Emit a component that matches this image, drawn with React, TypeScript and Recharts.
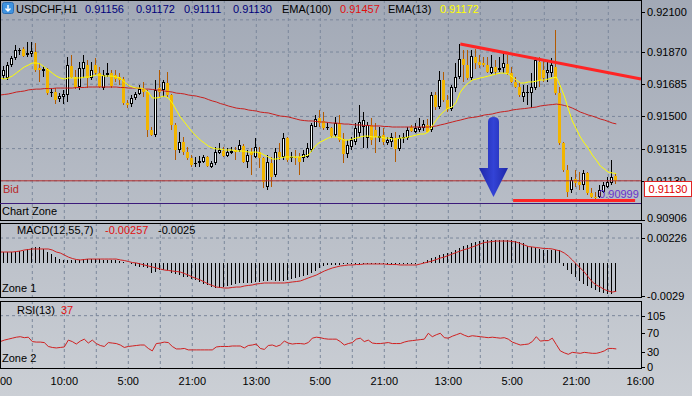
import React from "react";
import { ComposedChart, Bar, Line, XAxis, YAxis, CartesianGrid, ReferenceLine, ReferenceDot } from "recharts";

const FONT = '"Liberation Sans", Arial, sans-serif';

// ---- candles (USDCHF, H1) ----
const openP = [
  0.91721,0.91732,0.91721,0.91795,0.91836,0.91876,0.91887,0.91853,0.91859,0.91870,
  0.91778,0.91761,0.91772,0.91634,0.91640,0.91600,0.91611,0.91623,0.91790,0.91726,
  0.91669,0.91772,0.91795,0.91721,0.91795,0.91749,0.91663,0.91738,0.91749,0.91738,
  0.91726,0.91715,0.91577,0.91571,0.91606,0.91629,0.91657,0.91640,0.91422,0.91393,
  0.91663,0.91652,0.91692,0.91623,0.91451,0.91307,0.91353,0.91295,0.91261,0.91226,
  0.91232,0.91238,0.91267,0.91209,0.91232,0.91290,0.91301,0.91272,0.91290,0.91307,
  0.91307,0.91330,0.91238,0.91295,0.91267,0.91295,0.91261,0.91094,0.91232,0.91163,
  0.91295,0.91267,0.91376,0.91261,0.91267,0.91267,0.91261,0.91267,0.91307,0.91439,
  0.91491,0.91474,0.91433,0.91433,0.91393,0.91462,0.91370,0.91284,0.91324,0.91353,
  0.91405,0.91439,0.91376,0.91451,0.91422,0.91376,0.91393,0.91347,0.91353,0.91376,
  0.91313,0.91376,0.91376,0.91439,0.91410,0.91422,0.91433,0.91451,0.91422,0.91623,
  0.91554,0.91709,0.91594,0.91543,0.91663,0.91726,0.91830,0.91795,0.91721,0.91841,
  0.91813,0.91807,0.91795,0.91749,0.91784,0.91767,0.91778,0.91801,0.91749,0.91698,
  0.91669,0.91611,0.91634,0.91634,0.91663,0.91813,0.91767,0.91749,0.91749,0.91784,
  0.91634,0.91347,0.91192,0.91077,0.91140,0.91123,0.91106,0.91175,0.91060,0.91037,
  0.91037,0.91066,0.91094,0.91117,0.91156
];
const highP = [
  0.91801,0.91790,0.91813,0.91847,0.91910,0.91893,0.91899,0.91928,0.91928,0.91922,
  0.91807,0.91790,0.91778,0.91663,0.91663,0.91634,0.91652,0.91841,0.91853,0.91767,
  0.91813,0.91853,0.91824,0.91813,0.91836,0.91784,0.91767,0.91807,0.91767,0.91767,
  0.91749,0.91726,0.91594,0.91623,0.91640,0.91680,0.91698,0.91652,0.91439,0.91709,
  0.91767,0.91709,0.91755,0.91629,0.91462,0.91410,0.91382,0.91324,0.91278,0.91267,
  0.91272,0.91278,0.91272,0.91244,0.91324,0.91347,0.91324,0.91318,0.91324,0.91324,
  0.91364,0.91341,0.91307,0.91318,0.91376,0.91324,0.91267,0.91278,0.91267,0.91318,
  0.91347,0.91405,0.91382,0.91295,0.91307,0.91290,0.91307,0.91347,0.91462,0.91508,
  0.91537,0.91525,0.91462,0.91439,0.91497,0.91508,0.91405,0.91364,0.91382,0.91462,
  0.91566,0.91525,0.91468,0.91491,0.91462,0.91439,0.91433,0.91382,0.91405,0.91410,
  0.91393,0.91405,0.91439,0.91451,0.91462,0.91491,0.91479,0.91485,0.91640,0.91640,
  0.91761,0.91755,0.91623,0.91680,0.91807,0.91916,0.91882,0.91882,0.91882,0.91887,
  0.91853,0.91841,0.91841,0.91853,0.91824,0.91841,0.91864,0.91853,0.91784,0.91726,
  0.91698,0.91680,0.91680,0.91749,0.91841,0.91841,0.91824,0.91813,0.91836,0.91997,
  0.91669,0.91353,0.91221,0.91152,0.91192,0.91180,0.91192,0.91180,0.91089,0.91066,
  0.91106,0.91123,0.91152,0.91249,0.91172
];
const lowP = [
  0.91709,0.91715,0.91709,0.91784,0.91824,0.91853,0.91841,0.91841,0.91841,0.91755,
  0.91698,0.91726,0.91623,0.91611,0.91571,0.91583,0.91571,0.91583,0.91721,0.91657,
  0.91652,0.91721,0.91663,0.91709,0.91738,0.91663,0.91652,0.91726,0.91663,0.91698,
  0.91680,0.91566,0.91548,0.91554,0.91594,0.91623,0.91611,0.91382,0.91387,0.91382,
  0.91611,0.91611,0.91611,0.91422,0.91249,0.91290,0.91278,0.91249,0.91209,0.91209,
  0.91209,0.91232,0.91209,0.91203,0.91221,0.91284,0.91267,0.91267,0.91284,0.91249,
  0.91295,0.91232,0.91203,0.91163,0.91261,0.91203,0.91089,0.91077,0.91094,0.91152,
  0.91249,0.91249,0.91238,0.91238,0.91221,0.91163,0.91238,0.91261,0.91295,0.91439,
  0.91439,0.91422,0.91422,0.91376,0.91382,0.91353,0.91232,0.91261,0.91307,0.91336,
  0.91382,0.91318,0.91318,0.91336,0.91290,0.91353,0.91336,0.91336,0.91324,0.91238,
  0.91301,0.91347,0.91364,0.91410,0.91405,0.91410,0.91416,0.91405,0.91410,0.91537,
  0.91543,0.91583,0.91525,0.91531,0.91640,0.91715,0.91698,0.91709,0.91709,0.91772,
  0.91778,0.91784,0.91749,0.91744,0.91738,0.91755,0.91749,0.91738,0.91692,0.91663,
  0.91611,0.91583,0.91566,0.91548,0.91652,0.91669,0.91698,0.91698,0.91726,0.91623,
  0.91336,0.91180,0.91037,0.91060,0.91094,0.91077,0.91077,0.91048,0.91031,0.91008,
  0.91031,0.91060,0.91089,0.91106,0.91111
];
const closeP = [
  0.91778,0.91767,0.91795,0.91836,0.91882,0.91882,0.91847,0.91864,0.91876,0.91767,
  0.91767,0.91772,0.91634,0.91640,0.91594,0.91617,0.91629,0.91795,0.91726,0.91669,
  0.91778,0.91813,0.91721,0.91767,0.91749,0.91669,0.91738,0.91749,0.91675,0.91715,
  0.91709,0.91577,0.91568,0.91606,0.91629,0.91657,0.91640,0.91422,0.91393,0.91652,
  0.91640,0.91698,0.91623,0.91451,0.91307,0.91353,0.91295,0.91261,0.91221,0.91232,
  0.91244,0.91267,0.91215,0.91232,0.91295,0.91307,0.91272,0.91295,0.91301,0.91295,
  0.91336,0.91238,0.91278,0.91278,0.91324,0.91261,0.91123,0.91238,0.91152,0.91295,
  0.91267,0.91376,0.91249,0.91267,0.91261,0.91238,0.91284,0.91318,0.91451,0.91485,
  0.91462,0.91433,0.91439,0.91387,0.91462,0.91364,0.91284,0.91336,0.91364,0.91433,
  0.91468,0.91479,0.91451,0.91364,0.91382,0.91387,0.91353,0.91364,0.91382,0.91313,
  0.91376,0.91382,0.91422,0.91416,0.91433,0.91439,0.91456,0.91410,0.91623,0.91554,
  0.91709,0.91594,0.91543,0.91669,0.91726,0.91830,0.91795,0.91721,0.91847,0.91807,
  0.91795,0.91795,0.91755,0.91784,0.91755,0.91778,0.91807,0.91749,0.91698,0.91669,
  0.91623,0.91640,0.91640,0.91669,0.91824,0.91709,0.91721,0.91767,0.91795,0.91634,
  0.91347,0.91192,0.91066,0.91134,0.91117,0.91106,0.91175,0.91060,0.91037,0.91031,
  0.91077,0.91106,0.91123,0.91152,0.91130
];

// ---- moving averages ----
const ema100 = [
  0.91623,0.91626,0.91629,0.91634,0.91640,0.91643,0.91646,0.91652,0.91655,0.91657,
  0.91657,0.91660,0.91660,0.91660,0.91663,0.91663,0.91663,0.91663,0.91663,0.91666,
  0.91666,0.91666,0.91669,0.91669,0.91669,0.91669,0.91669,0.91669,0.91669,0.91669,
  0.91666,0.91666,0.91663,0.91663,0.91663,0.91660,0.91657,0.91657,0.91655,0.91652,
  0.91652,0.91646,0.91643,0.91640,0.91634,0.91632,0.91629,0.91623,0.91620,0.91617,
  0.91611,0.91606,0.91597,0.91589,0.91583,0.91574,0.91568,0.91560,0.91554,0.91548,
  0.91545,0.91543,0.91537,0.91534,0.91531,0.91525,0.91522,0.91520,0.91514,0.91508,
  0.91502,0.91500,0.91497,0.91491,0.91485,0.91479,0.91476,0.91474,0.91474,0.91471,
  0.91468,0.91468,0.91465,0.91462,0.91462,0.91459,0.91456,0.91456,0.91453,0.91451,
  0.91451,0.91448,0.91448,0.91445,0.91445,0.91445,0.91442,0.91442,0.91439,0.91439,
  0.91439,0.91439,0.91439,0.91439,0.91439,0.91439,0.91439,0.91439,0.91442,0.91445,
  0.91451,0.91456,0.91462,0.91468,0.91474,0.91479,0.91485,0.91491,0.91494,0.91497,
  0.91502,0.91508,0.91511,0.91514,0.91520,0.91525,0.91528,0.91531,0.91537,0.91540,
  0.91543,0.91545,0.91548,0.91551,0.91554,0.91560,0.91563,0.91566,0.91568,0.91571,
  0.91568,0.91563,0.91557,0.91548,0.91537,0.91525,0.91517,0.91508,0.91502,0.91494,
  0.91485,0.91479,0.91471,0.91462,0.91457
];
const ema13 = [
  0.91721,0.91715,0.91721,0.91732,0.91749,0.91767,0.91784,0.91795,0.91807,0.91807,
  0.91801,0.91784,0.91767,0.91749,0.91732,0.91721,0.91715,0.91721,0.91721,0.91721,
  0.91721,0.91726,0.91726,0.91732,0.91738,0.91738,0.91732,0.91732,0.91732,0.91726,
  0.91721,0.91698,0.91680,0.91669,0.91663,0.91663,0.91657,0.91640,0.91606,0.91606,
  0.91611,0.91617,0.91606,0.91577,0.91537,0.91497,0.91468,0.91439,0.91410,0.91387,
  0.91364,0.91347,0.91330,0.91318,0.91313,0.91313,0.91307,0.91307,0.91307,0.91301,
  0.91301,0.91301,0.91295,0.91295,0.91295,0.91290,0.91278,0.91267,0.91255,0.91255,
  0.91261,0.91267,0.91267,0.91267,0.91267,0.91267,0.91272,0.91278,0.91307,0.91336,
  0.91353,0.91364,0.91376,0.91382,0.91382,0.91376,0.91364,0.91364,0.91370,0.91376,
  0.91382,0.91387,0.91387,0.91382,0.91382,0.91382,0.91376,0.91376,0.91370,0.91370,
  0.91376,0.91376,0.91382,0.91387,0.91393,0.91399,0.91399,0.91410,0.91445,0.91479,
  0.91508,0.91531,0.91548,0.91554,0.91583,0.91640,0.91669,0.91692,0.91709,0.91715,
  0.91721,0.91726,0.91732,0.91738,0.91744,0.91749,0.91749,0.91744,0.91726,0.91709,
  0.91692,0.91692,0.91698,0.91698,0.91703,0.91709,0.91709,0.91715,0.91721,0.91726,
  0.91675,0.91617,0.91543,0.91474,0.91428,0.91382,0.91347,0.91318,0.91278,0.91249,
  0.91215,0.91198,0.91180,0.91175,0.91172
];

// ---- MACD(12,55,7) ----
const macdHist = [
  0.00101,0.00101,0.00101,0.00101,0.00105,0.00110,0.00110,0.00128,0.00137,0.00146,
  0.00146,0.00128,0.00101,0.00083,0.00056,0.00038,0.00030,0.00030,0.00030,0.00030,
  0.00030,0.00034,0.00038,0.00038,0.00038,0.00034,0.00030,0.00030,0.00030,0.00030,
  0.00021,0.00012,0.00003,-0.00006,-0.00024,-0.00029,-0.00033,-0.00042,-0.00087,-0.00078,
  -0.00060,-0.00060,-0.00060,-0.00087,-0.00096,-0.00105,-0.00118,-0.00122,-0.00140,-0.00149,
  -0.00167,-0.00185,-0.00194,-0.00212,-0.00221,-0.00221,-0.00216,-0.00207,-0.00194,-0.00185,
  -0.00176,-0.00176,-0.00176,-0.00172,-0.00167,-0.00163,-0.00158,-0.00154,-0.00149,-0.00154,
  -0.00158,-0.00158,-0.00149,-0.00140,-0.00131,-0.00122,-0.00114,-0.00105,-0.00091,-0.00069,
  -0.00042,-0.00024,-0.00015,-0.00015,-0.00015,-0.00011,-0.00006,-0.00006,-0.00006,-0.00009,
  -0.00009,-0.00009,-0.00006,-0.00006,-0.00006,-0.00006,-0.00006,-0.00006,-0.00006,-0.00006,
  -0.00006,-0.00006,-0.00006,-0.00006,-0.00002,0.00003,0.00016,0.00030,0.00043,0.00056,
  0.00070,0.00083,0.00092,0.00101,0.00119,0.00137,0.00155,0.00164,0.00181,0.00190,
  0.00199,0.00204,0.00208,0.00208,0.00208,0.00208,0.00208,0.00208,0.00204,0.00199,
  0.00190,0.00181,0.00155,0.00146,0.00137,0.00128,0.00119,0.00119,0.00119,0.00119,
  0.00119,-0.00024,-0.00060,-0.00096,-0.00122,-0.00158,-0.00185,-0.00203,-0.00221,-0.00239,
  -0.00257,-0.00266,-0.00274,-0.00274,-0.00257
];
const macdSignal = [
  0.00101,0.00101,0.00101,0.00101,0.00105,0.00110,0.00119,0.00123,0.00128,0.00128,
  0.00128,0.00128,0.00128,0.00119,0.00101,0.00092,0.00074,0.00056,0.00043,0.00034,
  0.00030,0.00034,0.00038,0.00038,0.00038,0.00038,0.00038,0.00038,0.00038,0.00038,
  0.00030,0.00025,0.00016,0.00007,0.00003,-0.00006,-0.00015,-0.00024,-0.00033,-0.00042,
  -0.00051,-0.00060,-0.00064,-0.00069,-0.00073,-0.00078,-0.00091,-0.00105,-0.00122,-0.00136,
  -0.00149,-0.00167,-0.00185,-0.00198,-0.00212,-0.00216,-0.00221,-0.00221,-0.00216,-0.00212,
  -0.00212,-0.00203,-0.00198,-0.00194,-0.00185,-0.00181,-0.00176,-0.00176,-0.00176,-0.00176,
  -0.00176,-0.00176,-0.00172,-0.00167,-0.00163,-0.00158,-0.00145,-0.00131,-0.00118,-0.00105,
  -0.00087,-0.00069,-0.00055,-0.00042,-0.00033,-0.00024,-0.00020,-0.00015,-0.00015,-0.00011,
  -0.00011,-0.00006,-0.00006,-0.00006,-0.00006,-0.00006,-0.00006,-0.00011,-0.00011,-0.00011,
  -0.00015,-0.00015,-0.00015,-0.00015,-0.00015,-0.00006,0.00003,0.00012,0.00021,0.00034,
  0.00047,0.00056,0.00070,0.00083,0.00097,0.00110,0.00123,0.00132,0.00146,0.00159,
  0.00173,0.00186,0.00190,0.00195,0.00199,0.00199,0.00199,0.00199,0.00195,0.00190,
  0.00177,0.00164,0.00150,0.00146,0.00141,0.00137,0.00132,0.00132,0.00128,0.00119,
  0.00110,0.00092,0.00065,0.00030,-0.00006,-0.00042,-0.00078,-0.00122,-0.00167,-0.00194,
  -0.00212,-0.00234,-0.00248,-0.00257,-0.00250
];

// ---- RSI(13) ----
const rsi13 = [
  52,55,57,59,61,62,60,61,52,51,
  51,50,42,40,39,40,41,55,52,47,
  53,57,49,55,48,44,42,50,49,48,
  45,40,42,43,44,45,45,38,33,48,
  49,51,50,42,37,37,38,35,35,35,
  35,35,35,35,41,42,42,42,43,43,
  43,39,44,45,47,38,36,44,45,42,
  45,53,49,47,48,48,47,50,59,61,
  60,58,57,57,57,52,45,48,50,57,
  59,52,55,49,48,48,49,50,48,48,
  48,51,53,54,55,56,57,69,62,66,
  69,60,59,63,66,69,65,62,64,63,
  62,61,60,61,60,59,60,57,51,48,
  45,46,47,52,62,53,54,54,59,46,
  33,29,26,30,29,28,30,29,28,28,
  30,33,38,38,37
];

// ---- axes / annotations ----
const timeTicks = [0, 16, 32, 48, 64, 80, 96, 112, 128, 144, 160];
const timeLabels = ["00", "10:00", "5:00", "21:00", "13:00", "5:00", "21:00", "13:00", "5:00", "21:00", "16:00"];
const gridBars = [8, 16, 24, 32, 40, 48, 56, 64, 72, 80, 88, 96, 104, 112, 120, 128, 136, 144, 152];
const priceTicks = [0.921, 0.9187, 0.91685, 0.915, 0.91315, 0.9113, 0.90906];
const priceTickLabels = ["0.92100", "0.91870", "0.91685", "0.91500", "0.91315", "0.91130", "0.90906"];
const priceGrid = [0.92055, 0.9187, 0.91685, 0.915, 0.91315, 0.9113];
const macdTicks = [0.00226, -0.0029];
const macdTickLabels = ["0.00226", "-0.0029"];
const rsiTicks = [105, 70, 30, 0];
const rsiTickLabels = ["105", "70", "30", "0"];
const bidPrice = 0.9113;
const trendLine = [{ x: 115, y: 0.91916 }, { x: 160.17, y: 0.91715 }];
const supportLine = [{ x: 128.2, y: 0.91017 }, { x: 158.7, y: 0.91017 }];
const supportLabel = { x: 149.7, y: 0.91054, text: "0.90999" };
const arrowTip = { x: 123.3, y: 0.91037 };

const X_DOMAIN: [number, number] = [-0.075, 160.175];
const PRICE_DOMAIN: [number, number] = [0.90899, 0.92169];
const MACD_DOMAIN: [number, number] = [-0.003102, 0.003603];
const RSI_DOMAIN: [number, number] = [-2, 135];

const rows = openP.map((o, i) => ({
  i,
  o,
  h: highP[i],
  l: lowP[i],
  c: closeP[i],
  range: [lowP[i], highP[i]],
  e100: ema100[i],
  e13: ema13[i],
  hist: macdHist[i],
  sig: macdSignal[i],
  rsi: rsi13[i],
}));

const GRID = "#7b879b";
const PLOT_W = 641;

const Candle = (props: any) => {
  const { x, y, width, height, payload } = props;
  if (x == null || payload == null || y == null) return null;
  const top = Math.min(y, y + height);
  const hh = Math.abs(height);
  const { o, h: hi, l: lo, c } = payload;
  const k = hi - lo > 0 ? hh / (hi - lo) : 0;
  const yOf = (v: number) => top + (hi - v) * k;
  const cx = Math.floor(x + width / 2) + 0.5;
  const yo = yOf(o);
  const yc = yOf(c);
  const bull = c >= o;
  const bt = Math.round(Math.min(yo, yc));
  const bb = Math.round(Math.max(yo, yc));
  const bh = Math.max(1, bb - bt);
  return (
    <g>
      <line x1={cx} x2={cx} y1={Math.round(top)} y2={Math.round(top + hh)} stroke={bull ? "#000" : "#b35a00"} strokeWidth={1} shapeRendering="crispEdges" />
      {bull ? (
        <g>
          <rect x={cx - 1.5} y={bt} width={3} height={bh} fill="#000" shapeRendering="crispEdges" />
          {bh > 2 ? <rect x={cx - 0.5} y={bt + 1} width={1} height={bh - 2} fill="#f4fbfb" shapeRendering="crispEdges" /> : null}
        </g>
      ) : (
        <rect x={cx - 1.5} y={bt} width={3} height={bh} fill="#f2b500" shapeRendering="crispEdges" />
      )}
    </g>
  );
};

const HistBar = (props: any) => {
  const { x, y, width, height } = props;
  if (x == null || y == null) return null;
  const cx = Math.floor(x + width / 2) + 0.5;
  const t = Math.min(y, y + height);
  const hh = Math.abs(height);
  return <line x1={cx} x2={cx} y1={t} y2={t + hh} stroke="#000" strokeWidth={1} shapeRendering="crispEdges" />;
};

const makeYTick = (values: number[], labels: string[], lastNudge: number) => (props: any) => {
  const { y, payload } = props;
  const idx = values.indexOf(payload.value);
  const nudge = idx === values.length - 1 ? lastNudge : 0;
  return (
    <g>
      <line x1={PLOT_W} x2={PLOT_W + 4} y1={Math.round(y) + 0.5} y2={Math.round(y) + 0.5} stroke="#000" strokeWidth={1} />
      <text x={PLOT_W + 6} y={y + 4 + nudge} fontSize={11} fontFamily={FONT} fill="#000">{labels[idx]}</text>
    </g>
  );
};

const TimeTick = (props: any) => {
  const { x, payload } = props;
  const idx = timeTicks.indexOf(payload.value);
  const first = idx === 0;
  return (
    <text x={first ? 0 : x} y={84} textAnchor={first ? "start" : "middle"} fontSize={11} fontFamily={FONT} fill="#000">
      {timeLabels[idx]}
    </text>
  );
};

const ArrowShape = (props: any) => {
  const { cx, cy } = props;
  if (cx == null) return null;
  const top = cy - 80;
  const neck = cy - 29;
  const d = `M${cx - 5.5},${neck} L${cx - 5.5},${top + 5} Q${cx - 5.5},${top} ${cx},${top} Q${cx + 5.5},${top} ${cx + 5.5},${top + 5} L${cx + 5.5},${neck} L${cx + 14.5},${neck} L${cx},${cy} L${cx - 14.5},${neck} Z`;
  return (
    <g>
      <defs>
        <linearGradient id="arrowGrad" x1="0" x2="1" y1="0" y2="0">
          <stop offset="0" stopColor="#1e28a8" />
          <stop offset="0.5" stopColor="#3343d6" />
          <stop offset="1" stopColor="#1e28a8" />
        </linearGradient>
      </defs>
      <path d={d} fill="url(#arrowGrad)" />
    </g>
  );
};

const LabelShape = (props: any) => {
  const { cx, cy } = props;
  if (cx == null) return null;
  return (
    <text x={cx} y={cy + 4} fontSize={11} fontFamily={FONT} fill="#6633cc">{supportLabel.text}</text>
  );
};

const Box = ({ top, height }: { top: number; height: number }) => (
  <div style={{ position: "absolute", left: 0, top, width: PLOT_W + 1, height, border: "1px solid #000", boxSizing: "border-box", pointerEvents: "none" }} />
);

const T = (p: { x: number; y: number; c?: string; children: React.ReactNode }) => (
  <text x={p.x} y={p.y} fontSize={11} fontFamily={FONT} fill={p.c || "#000"}>{p.children}</text>
);

export default function App() {
  return (
    <div style={{ position: "absolute", left: 0, top: 0, width: 692, height: 396, overflow: "hidden", background: "linear-gradient(#a2a9b6, #cbcfd5)" }}>
      {/* main price panel (plot 221px tall, extra room below for the last axis label) */}
      <div style={{ position: "absolute", left: 0, top: 0 }}>
        <ComposedChart width={692} height={232} data={rows} margin={{ top: 0, right: 0, bottom: 11, left: 0 }}>
          <CartesianGrid stroke={GRID} strokeDasharray="3 3" horizontalValues={priceGrid} verticalValues={gridBars} />
          <XAxis type="number" dataKey="i" domain={X_DOMAIN} hide allowDataOverflow />
          <YAxis orientation="right" type="number" width={51} domain={PRICE_DOMAIN} ticks={priceTicks} interval={0} allowDataOverflow axisLine={false} tickLine={false} tick={makeYTick(priceTicks, priceTickLabels, -2)} />
          <ReferenceLine y={bidPrice} stroke="#b33030" strokeWidth={1} />
          <Bar dataKey="range" barSize={3} shape={(p: any) => <Candle {...p} />} isAnimationActive={false} />
          <Line dataKey="e100" stroke="#c8201e" strokeWidth={1} dot={false} activeDot={false} isAnimationActive={false} />
          <Line dataKey="e13" stroke="#ffff00" strokeWidth={1} dot={false} activeDot={false} isAnimationActive={false} />
          <ReferenceLine segment={trendLine} stroke="#ff2424" strokeWidth={3} ifOverflow="visible" />
          <ReferenceLine segment={supportLine} stroke="#ff2424" strokeWidth={3} ifOverflow="visible" />
          <ReferenceDot x={arrowTip.x} y={arrowTip.y} shape={(p: any) => <ArrowShape {...p} />} ifOverflow="visible" />
          <ReferenceDot x={supportLabel.x} y={supportLabel.y} shape={(p: any) => <LabelShape {...p} />} ifOverflow="visible" />
        </ComposedChart>
      </div>

      {/* MACD panel (plot 75px tall) */}
      <div style={{ position: "absolute", left: 0, top: 223 }}>
        <ComposedChart width={692} height={81} data={rows} margin={{ top: 0, right: 0, bottom: 6, left: 0 }}>
          <CartesianGrid stroke={GRID} strokeDasharray="3 3" horizontalValues={[0.00226]} verticalValues={gridBars} />
          <XAxis type="number" dataKey="i" domain={X_DOMAIN} hide allowDataOverflow />
          <YAxis orientation="right" type="number" width={51} domain={MACD_DOMAIN} ticks={macdTicks} interval={0} allowDataOverflow axisLine={false} tickLine={false} tick={makeYTick(macdTicks, macdTickLabels, 0)} />
          <Bar dataKey="hist" barSize={1} shape={(p: any) => <HistBar {...p} />} isAnimationActive={false} />
          <Line dataKey="sig" stroke="#d02020" strokeWidth={1} dot={false} activeDot={false} isAnimationActive={false} />
        </ComposedChart>
      </div>

      {/* RSI panel */}
      <div style={{ position: "absolute", left: 0, top: 301 }}>
        <ComposedChart width={692} height={95} data={rows} margin={{ top: 0, right: 0, bottom: 0, left: 0 }}>
          <CartesianGrid stroke={GRID} strokeDasharray="3 3" horizontalValues={[105]} verticalValues={gridBars} />
          <XAxis type="number" dataKey="i" domain={X_DOMAIN} allowDataOverflow ticks={timeTicks} interval={0} height={28} axisLine={false} tickLine={false} tick={(p: any) => <TimeTick {...p} />} />
          <YAxis orientation="right" type="number" width={51} domain={RSI_DOMAIN} ticks={rsiTicks} interval={0} allowDataOverflow axisLine={false} tickLine={false} tick={makeYTick(rsiTicks, rsiTickLabels, 0)} />
          <Line dataKey="rsi" stroke="#d02020" strokeWidth={1} dot={false} activeDot={false} isAnimationActive={false} />
        </ComposedChart>
      </div>

      {/* panel frames */}
      <Box top={0} height={221} />
      <Box top={223} height={75} />
      <Box top={301} height={68} />

      {/* chart zone separator */}
      <div style={{ position: "absolute", left: 0, top: 203, width: PLOT_W, height: 1, background: "#3b1a7a" }} />

      {/* current price box */}
      <div style={{ position: "absolute", left: 644, top: 181, width: 48, height: 16, boxSizing: "border-box", border: "1px solid #e02424", background: "#fff", color: "#e00000", fontFamily: FONT, fontSize: 11, lineHeight: "14px", textAlign: "center" }}>0.91130</div>

      {/* text overlay */}
      <svg width={692} height={396} style={{ position: "absolute", left: 0, top: 0, pointerEvents: "none" }}>
        <rect x={2.5} y={2.5} width={11} height={11} rx={2} fill="#3f93e0" stroke="#2a6fb8" />
        <path d="M8,5 L8,10.5 M5.5,8.5 L8,11 L10.5,8.5" stroke="#fff" strokeWidth={1.4} fill="none" />
        <T x={16} y={13}>USDCHF,H1</T>
        <T x={85} y={13} c="#00007a">0.91156</T>
        <T x={136} y={13} c="#00007a">0.91172</T>
        <T x={184} y={13} c="#00007a">0.91111</T>
        <T x={233} y={13} c="#00007a">0.91130</T>
        <T x={282} y={13}>EMA(100)</T>
        <T x={340} y={13} c="#e01010">0.91457</T>
        <T x={388} y={13}>EMA(13)</T>
        <T x={440} y={13} c="#ffff00">0.91172</T>

        <T x={3} y={193} c="#b82828">Bid</T>
        <T x={2} y={215}>Chart Zone</T>

        <T x={17} y={234}>MACD(12,55,7)</T>
        <T x={105} y={234} c="#e01010">-0.00257</T>
        <T x={158} y={234}>-0.0025</T>
        <T x={2} y={292}>Zone 1</T>

        <T x={17} y={314}>RSI(13)</T>
        <T x={61} y={314} c="#e01010">37</T>
        <T x={2} y={362}>Zone 2</T>
      </svg>
    </div>
  );
}
